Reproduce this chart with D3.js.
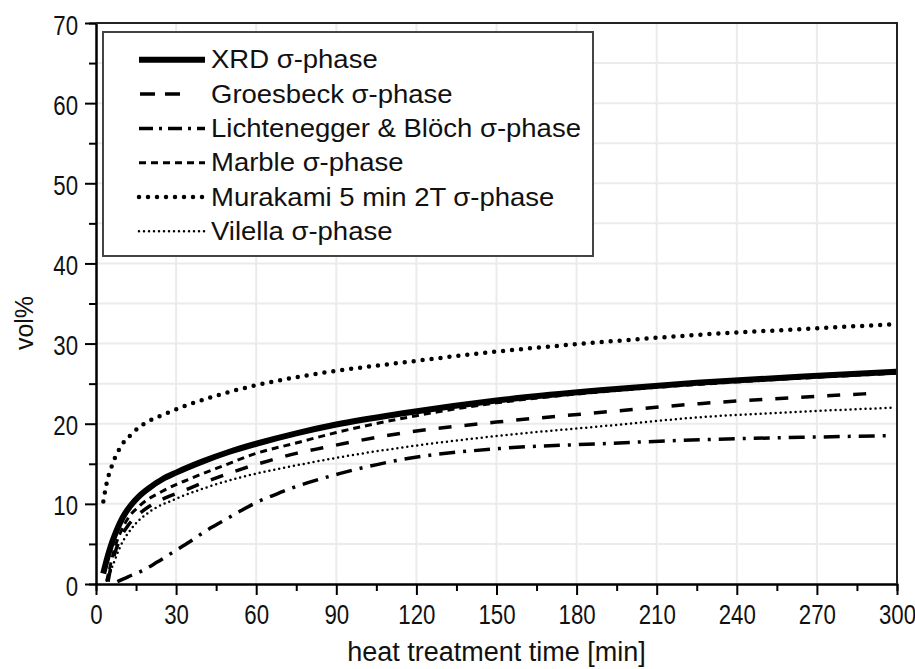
<!DOCTYPE html>
<html>
<head>
<meta charset="utf-8">
<script src="https://d3js.org/d3.v7.min.js"></script>
<style>
    body { margin: 0; background: #fff; }
    text { font-family: "Liberation Sans", Arial, sans-serif; fill: #111; }
</style>
</head>
<body>
<div id="chart"></div>
<script>
// x ticks and y ticks
var xMajor = [0, 30, 60, 90, 120, 150, 180, 210, 240, 270, 300];
var xMinor = [15, 45, 75, 105, 135, 165, 195, 225, 255, 285];
var yMajor = [0, 10, 20, 30, 40, 50, 60, 70];
var yMinor = [5, 15, 25, 35, 45, 55, 65];

// series (time in min, vol%)
var xrdTime = [2.7, 4, 5.5, 7.5, 10, 13, 16, 20, 25, 30, 40, 50, 60, 75, 90, 115, 150, 190, 225, 265, 300];
var xrdVol  = [1.3, 3.0, 4.7, 6.5, 8.3, 9.8, 10.9, 12.0, 13.1, 13.9, 15.3, 16.5, 17.5, 18.8, 19.9, 21.3, 22.9, 24.2, 25.1, 25.9, 26.5];

var groesTime = [4.5, 5.5, 7, 9, 12, 15, 20, 25, 31, 43, 55, 65, 75, 85, 114, 150, 192, 226, 264, 292];
var groesVol  = [0.3, 2.0, 3.8, 5.6, 7.3, 8.4, 9.7, 10.6, 11.4, 13.0, 14.4, 15.4, 16.3, 17.0, 18.8, 20.2, 21.5, 22.5, 23.3, 23.8];

var lichTime = [8, 12, 17, 22.75, 29, 35.25, 41, 47.75, 54, 60.25, 66, 72.75, 85, 91.5, 114, 151, 189, 226, 264, 296];
var lichVol  = [0.3, 0.9, 1.6, 2.7, 4.0, 5.3, 6.6, 7.9, 9.1, 10.2, 11.0, 11.9, 13.2, 13.8, 15.5, 16.9, 17.5, 18.0, 18.3, 18.5];

var marbleTime = [4, 5.5, 7, 9, 12, 16.5, 25, 35, 48, 60, 75, 90, 120, 150, 190, 230, 265, 300];
var marbleVol  = [0.4, 2.5, 4.5, 6.3, 8.2, 9.8, 11.6, 13.1, 14.8, 16.3, 17.6, 18.9, 21.0, 22.6, 24.0, 25.0, 25.7, 26.3];

var muraTime = [2.75, 4, 6, 9, 13, 18, 25, 34, 45, 60, 75, 90, 114, 150, 190, 226, 264, 298];
var muraVol  = [10.3, 12.6, 14.8, 17.0, 18.6, 20.0, 21.1, 22.3, 23.5, 24.8, 25.8, 26.6, 27.6, 29.0, 30.2, 31.1, 31.8, 32.4];

var vilTime = [4, 6.5, 9, 14, 20, 29, 41, 54, 66, 76.5, 91, 114, 151, 190, 226, 264, 299];
var vilVol  = [0.4, 2.5, 4.6, 7.2, 9.0, 10.5, 12.0, 13.3, 14.2, 14.9, 15.8, 17.0, 18.5, 19.7, 20.8, 21.5, 22.0];

var seriesNames = ["XRD \u03c3-phase", "Groesbeck \u03c3-phase", "Lichtenegger & Bl\u00f6ch \u03c3-phase",
                   "Marble \u03c3-phase", "Murakami 5 min 2T \u03c3-phase", "Vilella \u03c3-phase"];

////////////////////////////////////////////////////////////////////////

function drawChart(id)
{
    var width = 915, height = 669;
    var pLeft = 96, pRight = 897, pTop = 23, pBottom = 584;

    var styles = [
        { w: 6,   dash: null,        cap: "butt",  key: null       },
        { w: 3.5, dash: "13,13",     cap: "butt",  key: "15,10"    },
        { w: 3.5, dash: "16,8,3,8",  cap: "butt",  key: "14,6,3,6" },
        { w: 3,   dash: "7,5",       cap: "butt",  key: "7,5"      },
        { w: 4.5, dash: "0,9",       cap: "round", key: "0,9"      },
        { w: 2.5, dash: "0,5",       cap: "round", key: "0,5"      }
    ];

    var seriesData = [
        d3.zip(xrdTime, xrdVol),
        d3.zip(groesTime, groesVol),
        d3.zip(lichTime, lichVol),
        d3.zip(marbleTime, marbleVol),
        d3.zip(muraTime, muraVol),
        d3.zip(vilTime, vilVol)
    ];

    var x = d3.scaleLinear().domain([0, 300]).range([pLeft, pRight]);
    var y = d3.scaleLinear().domain([0, 70]).range([pBottom, pTop]);

    var svg = d3.select(id).append("svg")
                .attr("width", width)
                .attr("height", height);

    // grid
    svg.append("g").selectAll("line")
       .data(xMajor.slice(1, -1))
       .enter().append("line")
       .attr("x1", function(d) { return x(d); })
       .attr("x2", function(d) { return x(d); })
       .attr("y1", pTop).attr("y2", pBottom)
       .style("stroke", "#ebebeb").style("stroke-width", 2);

    svg.append("g").selectAll("line")
       .data(yMajor.concat(yMinor).filter(function(d) { return d > 0 && d < 70; }))
       .enter().append("line")
       .attr("y1", function(d) { return y(d); })
       .attr("y2", function(d) { return y(d); })
       .attr("x1", pLeft).attr("x2", pRight)
       .style("stroke", "#ebebeb").style("stroke-width", 2);

    // curves
    var line = d3.line()
                 .x(function(d) { return x(d[0]); })
                 .y(function(d) { return y(d[1]); })
                 .curve(d3.curveMonotoneX);

    svg.append("g").selectAll("path")
       .data(seriesData)
       .enter().append("path")
       .attr("d", line)
       .style("fill", "none")
       .style("stroke", "#000")
       .style("stroke-width", function(d, i) { return styles[i].w; })
       .style("stroke-dasharray", function(d, i) { return styles[i].dash; })
       .style("stroke-linecap", function(d, i) { return styles[i].cap; });

    // legend
    var legend = svg.append("g");
    legend.append("rect")
          .attr("x", 103).attr("y", 32)
          .attr("width", 490).attr("height", 224)
          .style("fill", "#fff")
          .style("stroke", "#444")
          .style("stroke-width", 2);

    var row = legend.selectAll(".row")
                    .data(seriesNames)
                    .enter().append("g")
                    .attr("class", "row")
                    .attr("transform", function(d, i) { return "translate(0," + (68.3 + i * 34.3) + ")"; });

    row.append("line")
       .attr("x1", function(d, i) { return i == 1 ? 140 : 139; })
       .attr("x2", function(d, i) { return i == 1 ? 180 : 205; })
       .attr("y1", -8.5).attr("y2", -8.5)
       .style("stroke", "#000")
       .style("stroke-width", function(d, i) { return styles[i].w; })
       .style("stroke-dasharray", function(d, i) { return styles[i].key; })
       .style("stroke-linecap", function(d, i) { return styles[i].cap; });

    row.append("text")
       .attr("transform", "translate(211,0) scale(1.1,1)")
       .style("font-size", "25px")
       .text(function(d) { return d; });

    // axes
    var gx = svg.append("g").attr("transform", "translate(0," + pBottom + ")");
    gx.call(d3.axisBottom(x).tickValues(xMinor).tickSize(7).tickFormat(""));
    gx.append("g").call(d3.axisBottom(x).tickValues(xMajor).tickSize(11).tickSizeOuter(0));

    var gy = svg.append("g").attr("transform", "translate(" + pLeft + ",0)");
    gy.call(d3.axisLeft(y).tickValues(yMinor).tickSize(7).tickFormat(""));
    gy.append("g").call(d3.axisLeft(y).tickValues(yMajor).tickSize(11).tickSizeOuter(0));

    svg.selectAll(".domain").style("stroke", "#000").style("stroke-width", 2);
    svg.selectAll(".tick line").style("stroke", "#000").style("stroke-width", 2);

    gx.selectAll(".tick text")
      .attr("y", 0).attr("dy", null)
      .attr("transform", "translate(0,40) scale(0.78,1)")
      .style("font-size", "28.5px");

    gy.selectAll(".tick text")
      .attr("x", 0).attr("dy", null)
      .attr("transform", "translate(-18,11) scale(0.78,1)")
      .style("font-size", "28.5px");

    // frame top / right
    svg.append("path")
       .attr("d", "M" + pLeft + "," + pTop + "H" + pRight + "V" + pBottom)
       .style("fill", "none")
       .style("stroke", "#222")
       .style("stroke-width", 2);

    // titles
    svg.append("text")
       .attr("x", (pLeft + pRight) / 2).attr("y", 661)
       .attr("text-anchor", "middle")
       .style("font-size", "27px")
       .text("heat treatment time [min]");

    svg.append("text")
       .attr("transform", "translate(33,323) rotate(-90)")
       .attr("text-anchor", "middle")
       .style("font-size", "25px")
       .text("vol%");
}

drawChart("#chart");
</script>
</body>
</html>
